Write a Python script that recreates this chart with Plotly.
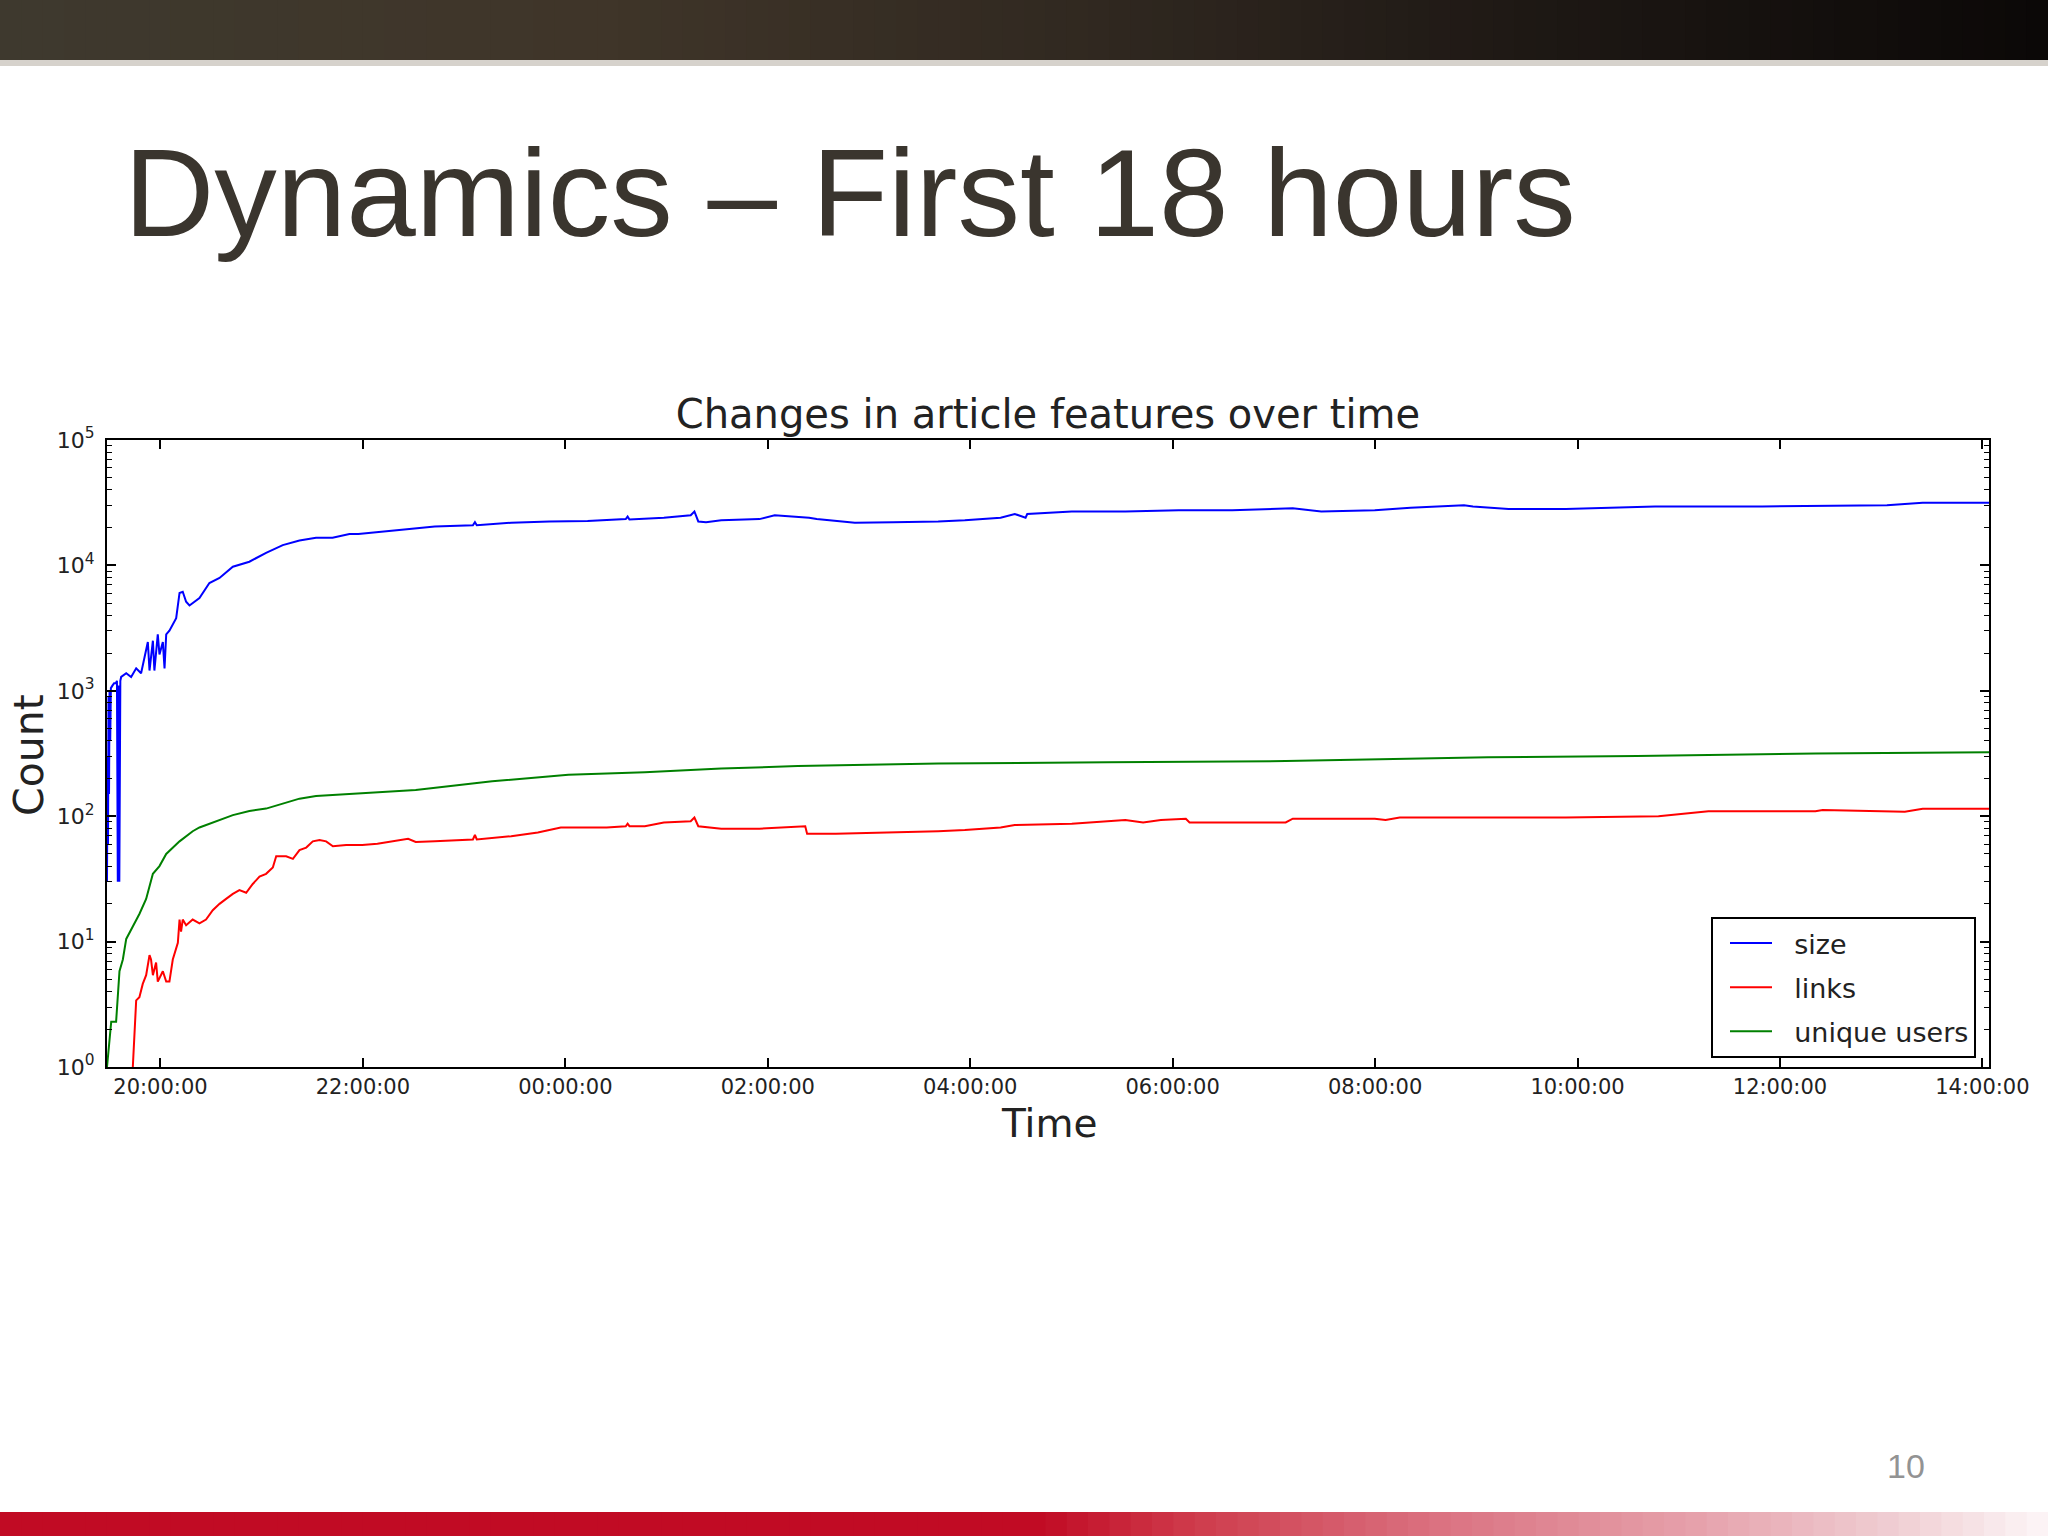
import pandas as pd
import plotly.graph_objects as go

# ---------------- data (minutes after 20:00:00, counts) ----------------
BASE = pd.Timestamp("2010-01-01 20:00:00")

size_min = [-31.7, -31.4, -31.1, -30.8, -30.5, -30.2, -29.8, -29.4, -28.5, -27.5, -26.5, -25.8,
            -25.3, -24.8, -24.4, -23.8, -23.3, -20.3, -17.4, -14.4, -11.5, -9.5, -7.5, -6.5,
            -4.5, -3.6, -1.6, -0.6, 1.4, 2.4, 3.4, 5.3, 7.3, 9.3, 11.3, 13.2, 15.2, 17.2, 23.1,
            29, 35, 42.9, 52.7, 62.6, 72.5, 82.4, 92.2, 102, 112, 117.3, 140, 162.6, 185.2,
            186.4, 187.5, 207.9, 230.5, 253.2, 275.8, 276.9, 278, 298.4, 314.3, 316.5, 318.8,
            323.4, 332.4, 355, 364.1, 377.7, 384.5, 389, 411.6, 434.3, 461, 476.8, 498, 506.4,
            512.8, 513.8, 540.2, 571.9, 603.6, 635.3, 667, 671.2, 688.1, 719.8, 741, 772.7,
            778, 784.3, 799.1, 833, 885.9, 949.4, 1023.4, 1044.6, 1084]
size_val = [30, 300, 60, 900, 150, 1000, 400, 1050, 1100, 1150, 1150, 1200,
            30, 1100, 30, 1200, 1290, 1380, 1290, 1510, 1380, 1860, 2450, 1450,
            2510, 1450, 2820, 1950, 2450, 1510, 2820, 3020, 3390, 3800, 6030, 6170, 5130, 4790, 5500,
            7240, 7940, 9770, 10700, 12600, 14500, 15800, 16600, 16600, 17800, 17800, 19100, 20400, 20900,
            22100, 20900, 21900, 22400, 22600, 23400, 24500, 23200, 24000, 25100, 26900, 22400,
            22100, 22900, 23400, 25100, 24500, 24000, 23400, 21900, 22100, 22400, 22900, 24000, 25700,
            24000, 25700, 26900, 26900, 27500, 27500, 28200, 28500, 26900, 27500, 28800, 30200,
            29500, 29200, 28200, 28200, 29500, 29500, 30200, 31600, 31600]

links_min = [-16.4, -14.4, -12.5, -10.5, -8.5, -6.5, -5.6, -4.5, -2.6, -1.6, 1.4, 3.4, 5.3, 7.3,
             10.3, 11.3, 12.2, 13.2, 15.2, 19.1, 23.1, 27, 31, 35, 38.9, 42.9, 46.8, 50.8, 54.7,
             58.7, 62.6, 66.6, 68.6, 74.5, 78.5, 82.4, 86.4, 90.3, 94.3, 98.2, 102.2, 110.1,
             119.6, 128.6, 146.8, 151.3, 162.6, 185.2, 186.4, 187.5, 207.9, 223.7, 237.3, 264.5,
             275.8, 276.9, 278, 287.1, 298.4, 314.3, 316.5, 318.8, 332.4, 355, 382.2, 383.3,
             400.3, 434.3, 461, 476.8, 498, 506.4, 540.2, 571.9, 582.5, 593, 607.8, 610, 667,
             671.2, 719.8, 726.2, 734.6, 787, 833, 888, 917.6, 981, 985.3, 1034, 1044.6, 1084]
links_val = [1, 3.4, 3.6, 4.6, 5.4, 7.8, 7.2, 5.4, 6.8, 4.8, 5.8, 4.8, 4.8, 7.2,
             9.8, 15, 12, 15, 13.5, 15, 14, 15, 17.8, 20, 21.9, 24, 25.7, 24.5, 28.8,
             33, 34.7, 39, 47.9, 47.9, 45.7, 53.7, 56.2, 63, 64.6, 63, 57.5, 58.9,
             58.9, 60.3, 66.1, 62.4, 63.1, 65.3, 70.8, 65.3, 69.2, 74.1, 81.3, 81.3,
             83.2, 87.1, 83.2, 83.2, 89.1, 91.2, 97.7, 83.2, 79.4, 79.4, 83.2, 72.4,
             72.4, 74.1, 75.9, 77.6, 81.3, 85.1, 87.1, 93.3, 89.1, 93.3, 95.5, 89.1, 89.1,
             95.5, 95.5, 93.3, 97.7, 97.7, 97.7, 100, 109.6, 109.6, 112, 108.4, 114.8, 114.8]

users_min = [-31.7, -30.2, -29.2, -26.3, -25.3, -24.3, -22.3, -20.3, -16.4, -12.5, -8.5, -4.5,
             -0.6, 3.4, 11.3, 19.1, 23.1, 33, 42.9, 52.7, 62.6, 72.5, 82.4, 92.2, 102, 106,
             151.3, 196.6, 241.8, 287.1, 332.4, 377.7, 423, 461, 561.4, 667, 787, 875.3, 981, 1084]
users_val = [1, 1.6, 2.3, 2.3, 3.4, 5.8, 7.2, 10.5, 13.2, 16.6, 21.9, 34.7,
             40, 50, 63, 75.9, 81.3, 91.2, 102, 110, 115, 126, 138, 145, 148, 148,
             162, 190, 214, 224, 240, 251, 257, 263, 269, 275, 295, 302, 316, 324]

series_names = ["size", "links", "unique users"]
series_colors = ["#0000ff", "#ff0000", "#008000"]

y_tick_vals = [1, 10, 100, 1000, 10000, 100000]
y_tick_text = ["10<sup>0</sup>", "10<sup>1</sup>", "10<sup>2</sup>",
               "10<sup>3</sup>", "10<sup>4</sup>", "10<sup>5</sup>"]
x_start_min, x_end_min = -31.7, 1083.9

# ---------------- figure ----------------
W, H = 2048, 1536
L, R, T, B = 107, 59, 440, 469
PW, PH = W - L - R, H - T - B


def px(x):
    return (x - L) / PW


def py(y):
    return (H - B - y) / PH


def to_time(mins):
    return [BASE + pd.Timedelta(minutes=m) for m in mins]


fig = go.Figure()
for mins, vals, name, col in [(size_min, size_val, series_names[0], series_colors[0]),
                              (links_min, links_val, series_names[1], series_colors[1]),
                              (users_min, users_val, series_names[2], series_colors[2])]:
    fig.add_trace(go.Scatter(x=to_time(mins), y=vals, mode="lines",
                             name="\u00a0\u00a0" + name, legendgroup=name,
                             line=dict(color=col, width=2), hoverinfo="skip"))

minor_vals = [m * 10 ** k for k in range(0, 5) for m in range(2, 10)]

axis_common = dict(showline=True, linecolor="black", linewidth=2, mirror="ticks",
                   ticks="inside", ticklen=9, tickwidth=1.5, tickcolor="black",
                   showgrid=False, zeroline=False)

fig.update_xaxes(type="date", range=[BASE + pd.Timedelta(minutes=x_start_min),
                                     BASE + pd.Timedelta(minutes=x_end_min)],
                 tick0=BASE, dtick=2 * 3600 * 1000, tickformat="%H:%M:%S",
                 tickfont=dict(family="DejaVu Sans", size=21, color="#222222"),
                 **axis_common)
fig.update_yaxes(type="log", range=[0, 5], tickmode="array", tickvals=y_tick_vals,
                 ticktext=y_tick_text, ticklabelstandoff=6,
                 tickfont=dict(family="DejaVu Sans", size=22, color="#222222"),
                 minor=dict(ticks="inside", ticklen=5, tickcolor="black", tickwidth=1,
                            tickmode="array", tickvals=minor_vals, showgrid=False),
                 **axis_common)

shapes = []


def hexrgb(h):
    h = h.lstrip("#")
    return [int(h[i:i + 2], 16) for i in (0, 2, 4)]


def grad_color(stops, x):
    for (x0, c0), (x1, c1) in zip(stops[:-1], stops[1:]):
        if x0 <= x <= x1:
            t = 0 if x1 == x0 else (x - x0) / (x1 - x0)
            a, b = hexrgb(c0), hexrgb(c1)
            return "rgb(%d,%d,%d)" % tuple(round(a[i] + (b[i] - a[i]) * t) for i in range(3))
    return stops[-1][1]


def gradient_bar(stops, y0, y1, n=96):
    step = W / n
    for i in range(n):
        xa, xb = i * step, (i + 1) * step + 1
        shapes.append(dict(type="rect", xref="paper", yref="paper",
                           x0=px(xa), x1=px(xb), y0=py(y1), y1=py(y0),
                           fillcolor=grad_color(stops, (xa + xb) / 2), line=dict(width=0),
                           layer="below"))


top_stops = [(0, "#3e392e"), (600, "#3f3529"), (1100, "#302820"), (1500, "#1f1915"), (2048, "#0b0807")]
bottom_stops = [(0, "#c10b24"), (1040, "#c10b24"), (1200, "#cf3d4d"), (1450, "#db7483"),
                (1700, "#e6a2ac"), (1900, "#f0cfd4"), (2048, "#fdf6f7")]
gradient_bar(top_stops, 0, 60)
shapes.append(dict(type="rect", xref="paper", yref="paper", x0=px(0), x1=px(W),
                   y0=py(66), y1=py(60), fillcolor="#d6d2cc", line=dict(width=0), layer="below"))
gradient_bar(bottom_stops, 1512, 1536)

annotations = [
    dict(text="Dynamics \u2013 First 18 hours", xref="paper", yref="paper",
         x=px(122), y=py(193), xanchor="left", yanchor="middle", showarrow=False,
         font=dict(family="Liberation Sans", size=125, color="#3a352e")),
    dict(text="Count", xref="paper", yref="paper", x=px(29), y=py(755), textangle=-90,
         xanchor="center", yanchor="middle", showarrow=False,
         font=dict(family="DejaVu Sans", size=41, color="#222222")),
    dict(text="Time", xref="paper", yref="paper", x=px(1049), y=py(1123),
         xanchor="center", yanchor="middle", showarrow=False,
         font=dict(family="DejaVu Sans", size=39, color="#222222")),
    dict(text="10", xref="paper", yref="paper", x=px(1906), y=py(1466),
         xanchor="center", yanchor="middle", showarrow=False,
         font=dict(family="Liberation Sans", size=34, color="#939393")),
]

fig.update_layout(
    width=W, height=H, margin=dict(l=L, r=R, t=T, b=B, autoexpand=False),
    paper_bgcolor="white", plot_bgcolor="white",
    title=dict(text="Changes in article features over time", xref="paper", x=0.5,
               xanchor="center", y=1 - 414 / H, yanchor="middle",
               font=dict(family="DejaVu Sans", size=40, color="#222222")),
    legend=dict(x=px(1976), xanchor="right", y=py(917), yanchor="top",
                bgcolor="white", bordercolor="black", borderwidth=2,
                font=dict(family="DejaVu Sans", size=27, color="#222222"),
                tracegroupgap=6, itemwidth=42, indentation=12),
    shapes=shapes, annotations=annotations, showlegend=True,
)

fig.write_html("out.html", config={"displayModeBar": False},
               post_script="document.body.style.margin='0px';document.body.style.overflow='hidden';")
